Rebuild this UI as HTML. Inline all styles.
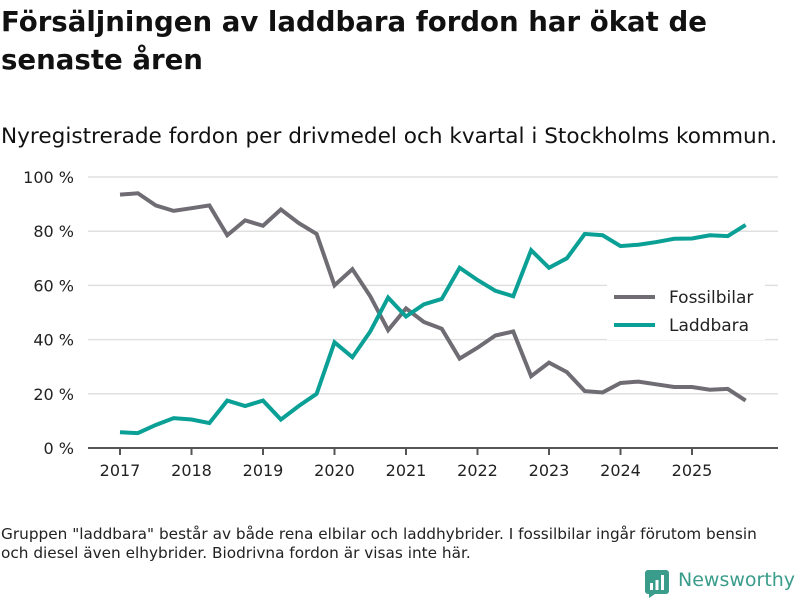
<!DOCTYPE html>
<html><head><meta charset="utf-8">
<style>
body{margin:0;width:800px;height:600px;background:#fff;font-family:"DejaVu Sans",sans-serif;color:#111;overflow:hidden;position:relative}
#title{position:absolute;left:1px;top:3px;font-size:27.6px;font-weight:bold;line-height:38px;margin:0}
#sub{position:absolute;left:1px;top:124px;font-size:21.6px;margin:0;font-weight:normal}
#note{position:absolute;left:1px;top:525px;font-size:15.3px;line-height:19px;color:#222;white-space:nowrap}
#logo{position:absolute;left:645px;top:569px;font-size:19px;color:#3a9c8a;white-space:nowrap}
svg{position:absolute;left:0;top:0}
</style></head><body>
<h1 id="title">Försäljningen av laddbara fordon har ökat de<br>senaste åren</h1>
<p id="sub">Nyregistrerade fordon per drivmedel och kvartal i Stockholms kommun.</p>
<svg id="chart" width="800" height="600"></svg>
<div id="note">Gruppen "laddbara" består av både rena elbilar och laddhybrider. I fossilbilar ingår förutom bensin<br>och diesel även elhybrider. Biodrivna fordon är visas inte här.</div>
<div id="logo"><svg width="24" height="28" style="position:absolute;left:0;top:1px"><rect x="0" y="0" width="24" height="24" rx="3" fill="#3a9c8a"/><polygon points="4,24 10,24 4,28" fill="#3a9c8a"/><rect x="5" y="13" width="3" height="7" fill="#fff"/><rect x="10.5" y="10" width="3" height="10" fill="#fff"/><rect x="16" y="5" width="3" height="15" fill="#fff"/></svg><span style="margin-left:33px">Newsworthy</span></div>
<script>
const years=["2017","2018","2019","2020","2021","2022","2023","2024","2025"];
const yTicks=[0,20,40,60,80,100];
const fossil=[93.5,94,89.5,87.5,88.5,89.5,78.5,84,82,88,83,79,60,66,56,43.5,51.5,46.5,44,33,37,41.5,43,26.5,31.5,28,21,20.5,24,24.5,23.5,22.5,22.5,21.5,21.8,17.5];
const laddbara=[5.8,5.5,8.5,11,10.5,9.2,17.5,15.5,17.5,10.5,15.5,20,39,33.5,43,55.5,48.5,53,55,66.5,62,58,56,73,66.5,70,79,78.5,74.5,75,76,77.2,77.3,78.5,78.2,82.3];
const svg=document.getElementById('chart');const NS='http://www.w3.org/2000/svg';
const x0=120,yearW=71.5,y0=448,yTop=177;
const xs=i=>x0+i*yearW/4;
const ys=v=>y0-(v/100)*(y0-yTop);
function mk(t,a){const e=document.createElementNS(NS,t);for(const k in a)e.setAttribute(k,a[k]);svg.appendChild(e);return e;}
yTicks.forEach(v=>{
 const g=mk('line',{x1:88,x2:778,y1:ys(v),y2:ys(v),stroke:v===0?'#555':'#e0e0e0','stroke-width':v===0?2:1.5});
 
 
 const t=mk('text',{x:74,y:ys(v)+6,'text-anchor':'end','font-size':16,fill:'#222','font-family':'DejaVu Sans, sans-serif'});
 t.textContent=v+' %';
 
 
});
years.forEach((y,i)=>{
 const x=x0+i*yearW;
 const l=mk('line',{x1:x,x2:x,y1:448,y2:455,stroke:'#555','stroke-width':2});
 
 
 const t=mk('text',{x:x,y:476,'text-anchor':'middle','font-size':16,fill:'#222','font-family':'DejaVu Sans, sans-serif'});
 t.textContent=y;
 
 
});
function line(d,c,n){
 const p=mk('polyline',{points:d.map((v,i)=>xs(i)+','+ys(v)).join(' '),fill:'none',stroke:c,'stroke-width':4,'stroke-linejoin':'miter'});
 
 
}
line(fossil,'#6f6d73','fossilbilar-line');
line(laddbara,'#0aa096','laddbara-line');
const lg=mk('rect',{x:607,y:284,width:158,height:56,fill:'#fff','fill-opacity':0.95});


[['Fossilbilar','#6f6d73',297],['Laddbara','#0aa096',325]].forEach(([n,c,y])=>{
 const l=mk('line',{x1:614,x2:655,y1:y,y2:y,stroke:c,'stroke-width':4});
 
 
 const t=mk('text',{x:669,y:y+6,'font-size':17,fill:'#222','font-family':'DejaVu Sans, sans-serif'});
 t.textContent=n;
 
 
});
</script>
</body></html>
